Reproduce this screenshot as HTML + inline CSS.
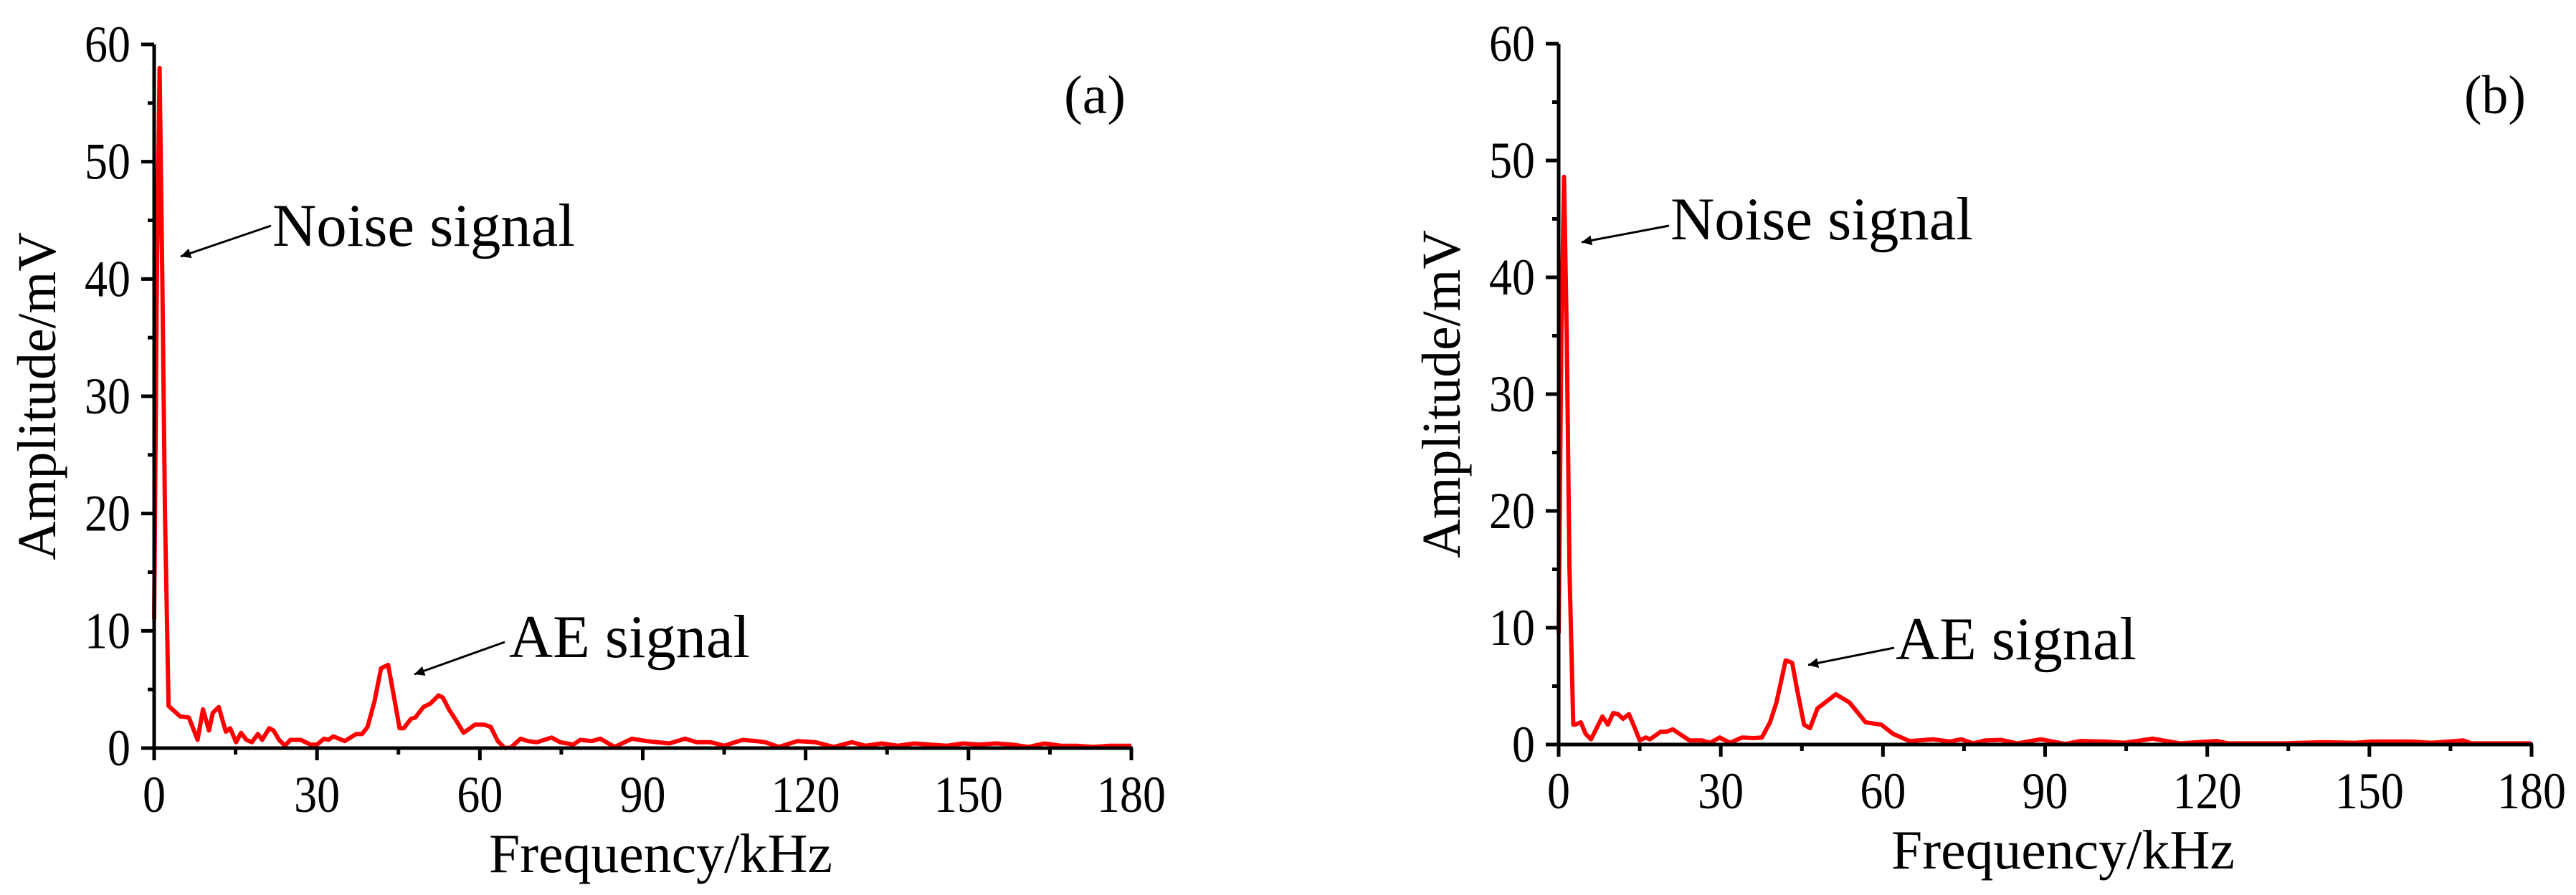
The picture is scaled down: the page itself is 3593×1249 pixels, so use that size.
<!DOCTYPE html>
<html><head><meta charset="utf-8"><style>
html,body{margin:0;padding:0;background:#fff;}
svg{display:block;}
svg text{font-family:"Liberation Serif","Times New Roman","DejaVu Serif",serif;}
</style></head><body>
<svg id="fig" width="3593" height="1249" viewBox="0 0 3593 1249" xmlns="http://www.w3.org/2000/svg">
<rect width="3593" height="1249" fill="#fff"/>
<defs>
<marker id="ah2" viewBox="0 0 10 10" refX="10" refY="5" markerWidth="26" markerHeight="14" markerUnits="userSpaceOnUse" orient="auto"><path d="M0,0 L10,5 L0,10 z" fill="#000"/></marker></defs>
<g id="pa"></g>
<g id="pb"></g>
</svg>
<script>
const xTicks = [0,30,60,90,120,150,180];
const yTicks = [0,10,20,30,40,50,60];
const freqA = [0,0.5,1,1.5,2,2.65,4.8,6.4,8,9,10.1,10.8,11.9,13.2,14,15.1,16,17,18,19.1,19.9,21.2,22,23,24.1,25.1,27,28.8,30,31.3,32.1,33,35.1,37.2,38.3,39.3,40.6,41.8,43.1,44.4,45.2,46,47.3,48.1,49.6,50.9,52.4,53.2,54.3,55.7,57,59.1,60.8,62,63.3,64.6,65.7,67.5,68.8,70.5,73.2,74.8,77.2,78.5,80.6,82.2,84.8,88,90.7,94.9,97.8,99.9,102.5,105,108.4,110.9,112.6,115.1,118.5,121.8,125.2,128.5,131,134,137,140,143,146,149,152,155,158,161,164,167,170,173,176,180];
const ampA = [11,40,58,40,20,3.6,2.7,2.6,0.7,3.3,1.5,3.0,3.5,1.4,1.7,0.5,1.3,0.7,0.5,1.2,0.7,1.7,1.5,0.7,0.2,0.7,0.7,0.3,0.3,0.8,0.7,1.0,0.6,1.2,1.2,1.8,4.0,6.8,7.1,3.8,1.7,1.7,2.5,2.6,3.5,3.8,4.5,4.3,3.3,2.3,1.3,2.0,2.0,1.8,0.6,0,0.05,0.8,0.6,0.5,0.9,0.5,0.3,0.7,0.6,0.8,0.1,0.8,0.6,0.4,0.8,0.5,0.5,0.2,0.7,0.6,0.5,0.1,0.6,0.5,0.1,0.5,0.2,0.4,0.2,0.4,0.3,0.2,0.4,0.3,0.4,0.3,0.1,0.4,0.2,0.2,0.1,0.2,0.2];
const freqB = [0,0.5,1,1.5,2,2.7,3,4.1,5,6,8.1,9.1,10.1,11,11.9,13,14.1,15,16.1,16.9,18.9,20,21.1,22.9,24.2,26.5,28,29.8,30.2,31.7,33.9,36.1,37.6,39.1,40.3,42,43.2,44.2,45.4,46.5,47.9,51.3,53.8,56.8,59.7,61.9,64.9,69.3,72.3,74.5,76.7,78.9,81.9,84.8,89.2,93.7,96.6,101,104.7,109.9,115,121.7,123.9,134.2,141.6,147.5,150.4,157.8,161.5,167.4,168.9,180];
const ampB = [9.5,35,48.6,35,15,1.7,1.7,1.9,0.9,0.45,2.4,1.7,2.7,2.6,2.2,2.6,1.4,0.35,0.6,0.45,1.1,1.1,1.3,0.75,0.35,0.35,0.15,0.6,0.5,0.15,0.6,0.55,0.6,1.9,3.6,7.2,7.0,4.5,1.7,1.4,3.1,4.3,3.6,1.9,1.7,0.9,0.3,0.45,0.25,0.45,0.1,0.35,0.4,0.1,0.45,0.05,0.3,0.25,0.15,0.5,0.1,0.3,0.1,0.1,0.2,0.15,0.25,0.25,0.15,0.35,0.1,0.1];
const NS='http://www.w3.org/2000/svg';
const FF='"Liberation Serif", "Times New Roman", "DejaVu Serif", serif';
function mk(p,tag,at,txt){const e=document.createElementNS(NS,tag);for(const k in at)e.setAttribute(k,at[k]);if(txt!==undefined){e.textContent=txt;e.setAttribute('font-family',FF);e.setAttribute('lengthAdjust','spacingAndGlyphs');}p.appendChild(e);return e;}
function panel(g,ox,x1,oy,y1,freq,amp,lab,noise,ae){
  const sx=v=>ox+(v-0)/(180-0)*(x1-ox);
  const sy=v=>oy-(v-0)/(60-0)*(oy-y1);
  const pts=freq.map((f,i)=>sx(f).toFixed(1)+','+sy(amp[i]).toFixed(1)).join(' ');
  const ln=mk(g,'polyline',{points:pts,fill:'none',stroke:'#ff0000','stroke-width':6,'stroke-linejoin':'round'});
  
  
  const ax=mk(g,'g',{});
  
  
  mk(ax,'line',{x1:ox-2,y1:oy,x2:x1+2,y2:oy,stroke:'#000','stroke-width':5});
  for(let v=0;v<=180;v+=15){const maj=v%30===0;mk(ax,'line',{x1:sx(v),y1:oy,x2:sx(v),y2:oy+(maj?17:9),stroke:'#000','stroke-width':5});}
  xTicks.forEach(v=>{const s=String(v);const t=mk(ax,'text',{x:sx(v),y:oy+89,'font-size':72,'text-anchor':'middle',textLength:s.length*32},s);
    
    });
  const xt=mk(g,'text',{x:(ox+x1)/2+25,y:oy+173,'font-size':77,'text-anchor':'middle',textLength:479},'Frequency/kHz');
  
  
  const ay=mk(g,'g',{});
  
  
  mk(ay,'line',{x1:ox,y1:oy+2,x2:ox,y2:y1,stroke:'#000','stroke-width':5});
  for(let v=0;v<=60;v+=5){const maj=v%10===0;mk(ay,'line',{x1:ox,y1:sy(v),x2:ox-(maj?18:9),y2:sy(v),stroke:'#000','stroke-width':5});}
  yTicks.forEach(v=>{const s=String(v);const t=mk(ay,'text',{x:ox-33,y:sy(v)+24,'font-size':72,'text-anchor':'end',textLength:s.length*32},s);
    
    });
  const cy=(oy+y1)/2;
  const yt=mk(g,'text',{x:ox-138,y:cy,'font-size':76,'text-anchor':'middle',textLength:458,transform:`rotate(-90 ${ox-138} ${cy})`},'Amplitude/mV');
  
  
  const pl=mk(g,'text',{x:x1-8,y:158,'font-size':76,'text-anchor':'end',textLength:86},lab);
  
  
  const nt=mk(g,'text',{x:noise[0],y:noise[1],'font-size':85,textLength:422},'Noise signal');
  
  
  const na=mk(g,'line',{x1:noise[2],y1:noise[3],x2:noise[4],y2:noise[5],stroke:'#000','stroke-width':3,'marker-end':'url(#ah2)'});
  
  
  const at=mk(g,'text',{x:ae[0],y:ae[1],'font-size':85,textLength:336},'AE signal');
  
  
  const aa=mk(g,'line',{x1:ae[2],y1:ae[3],x2:ae[4],y2:ae[5],stroke:'#000','stroke-width':3,'marker-end':'url(#ah2)'});
  
  
}
panel(document.getElementById('pa'),215,1578,1044,62,freqA,ampA,'(a)',[380,343,378,315,252,358],[710,917,704,896,578,941]);
panel(document.getElementById('pb'),2174,3531,1039,61,freqB,ampB,'(b)',[2330,334,2328,315,2206,338],[2644,920,2642,904,2522,928]);
</script>
</body></html>
